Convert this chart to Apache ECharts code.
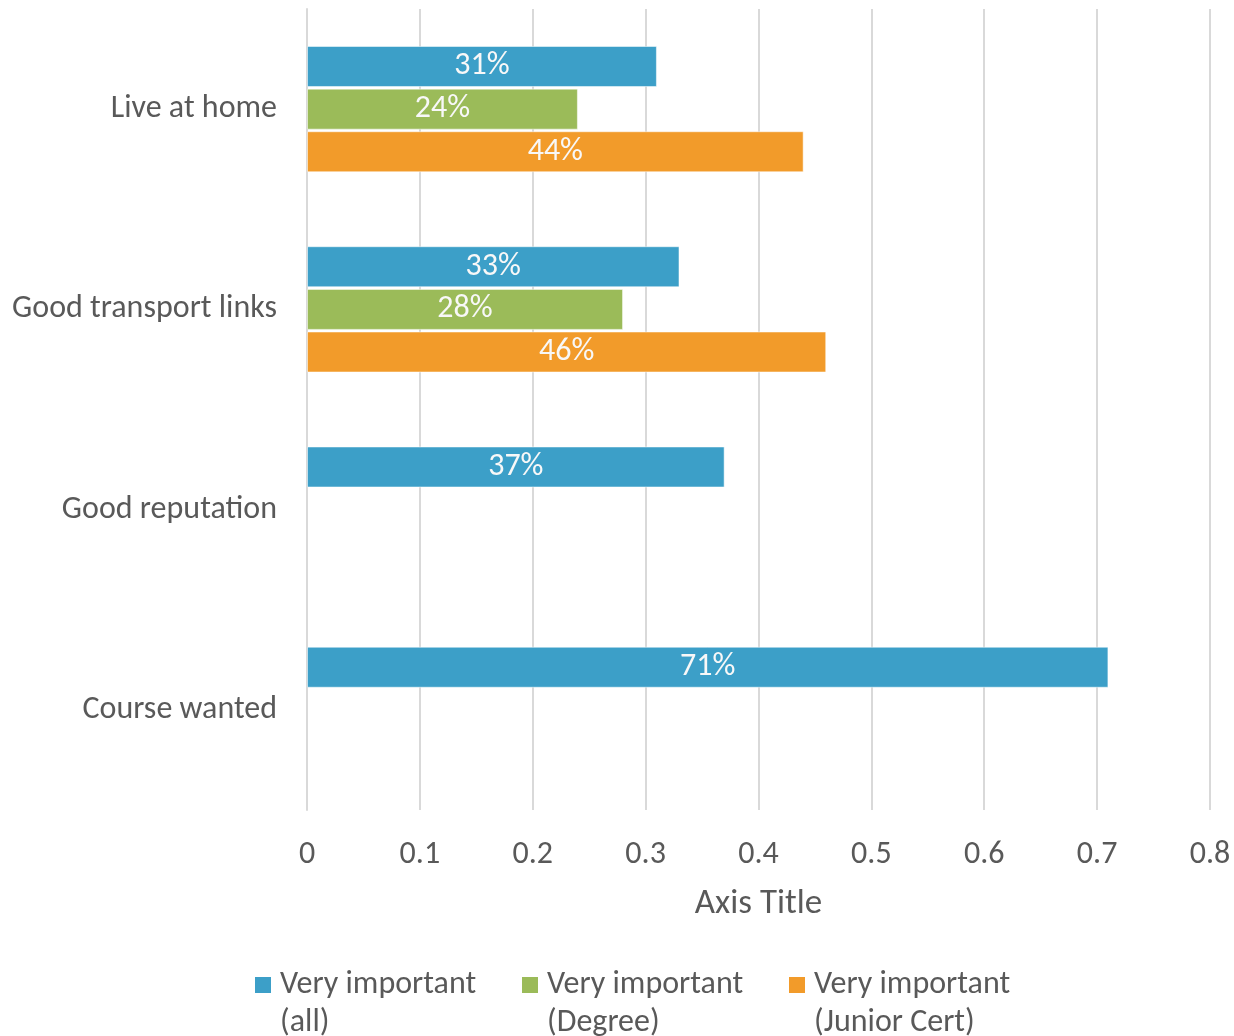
<!DOCTYPE html>
<html>
<head>
<meta charset="utf-8">
<script src="https://cdn.jsdelivr.net/npm/echarts@6/dist/echarts.min.js"></script>
<style>
  html, body { margin: 0; padding: 0; background: #ffffff; }
  #chart { width: 1234px; height: 1036px; }
</style>
</head>
<body>
<div id="chart"></div>
<script>
// Reasons rated "very important" when choosing where to study
const categories = ['Live at home', 'Good transport links', 'Good reputation', 'Course wanted'];
const seriesNames = ['Very important (all)', 'Very important (Degree)', 'Very important (Junior Cert)'];
const allValues = [0.31, 0.33, 0.37, 0.71];
const degreeValues = [0.24, 0.28, null, null];
const juniorCertValues = [0.44, 0.46, null, null];
const xTicks = { min: 0, max: 0.8, interval: 0.1 };
const colors = ['#3c9fc8', '#9bbb59', '#f29b2a'];

const FONT = 'Carlito, Lato, "Open Sans", sans-serif';
const TEXT = '#595959';

function barSeries(name, values, color) {
  return {
    name: name,
    type: 'bar',
    data: values,
    barWidth: 41,
    barGap: '4%',
    itemStyle: { color: color, borderColor: 'rgba(255,255,255,0.5)', borderWidth: 1 },
    label: {
      show: true,
      position: 'inside',
      color: '#f8f8f8',
      fontFamily: FONT,
      fontSize: 32,
      padding: [6, 0, 0, 0],
      formatter: p => Math.round(p.value * 100) + '%'
    }
  };
}

const chart = echarts.init(document.getElementById('chart'), null, { renderer: 'canvas' });
chart.setOption({
  animation: false,
  backgroundColor: '#ffffff',
  grid: { left: 307, right: 24, top: 9, bottom: 226, containLabel: false },
  xAxis: {
    type: 'value',
    min: xTicks.min,
    max: xTicks.max,
    interval: xTicks.interval,
    axisLine: { show: false },
    axisTick: { show: false },
    splitLine: { lineStyle: { color: '#d9d9d9', width: 2 } },
    axisLabel: { color: TEXT, fontFamily: FONT, fontSize: 32, margin: 29 },
    name: 'Axis Title',
    nameLocation: 'middle',
    nameGap: 77,
    nameTextStyle: { color: TEXT, fontFamily: FONT, fontSize: 35 }
  },
  yAxis: {
    type: 'category',
    inverse: true,
    data: categories,
    axisLine: { show: true, lineStyle: { color: '#d9d9d9', width: 2 } },
    axisTick: { show: false },
    axisLabel: { color: TEXT, fontFamily: FONT, fontSize: 32, margin: 30, padding: [4, 0, 0, 0] }
  },
  legend: {
    left: 255,
    top: 966,
    padding: 0,
    itemWidth: 16,
    itemHeight: 54,
    itemGap: 42,
    icon: 'path://M0,0H16V16H0Z M0,53.99H0.01V54H0Z',
    itemStyle: { borderWidth: 0 },
    formatter: n => n.replace(' (', '\n('),
    textStyle: { color: TEXT, fontFamily: FONT, fontSize: 32, lineHeight: 38, width: 200, padding: [0, 0, 0, 4] },
    data: seriesNames
  },
  series: [
    barSeries(seriesNames[0], allValues, colors[0]),
    barSeries(seriesNames[1], degreeValues, colors[1]),
    barSeries(seriesNames[2], juniorCertValues, colors[2])
  ]
});
</script>
</body>
</html>
